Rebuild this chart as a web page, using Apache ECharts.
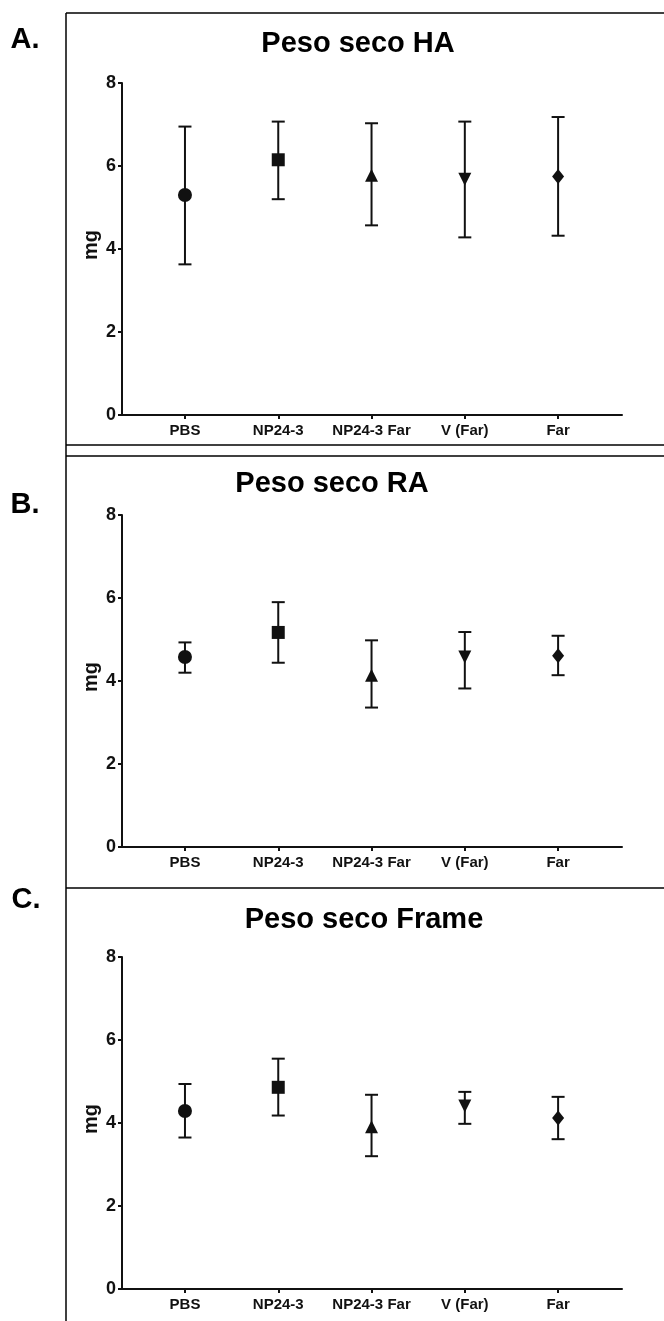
<!DOCTYPE html>
<html lang="en">
  <head>
    <meta charset="UTF-8" />
    <title>Peso seco</title>
    <script src="https://cdn.jsdelivr.net/npm/echarts@6/dist/echarts.min.js"></script>
    <style>
      html, body { margin: 0; padding: 0; background: #fff; }
    </style>
  </head>
  <body>
    <div id="main" style="width: 664px; height: 1321px"></div>
    <script type="text/javascript">
      // groups on the x axis
      let categories = ["PBS", "NP24-3", "NP24-3 Far", "V (Far)", "Far"]
      let yTicks = [0, 2, 4, 6, 8]

      // mean and error bar ends (mg)
      let haMean = [5.30, 6.15, 5.78, 5.68, 5.75]
      let haLow = [3.63, 5.20, 4.57, 4.28, 4.32]
      let haHigh = [6.95, 7.07, 7.03, 7.07, 7.18]

      let raMean = [4.58, 5.17, 4.14, 4.58, 4.61]
      let raLow = [4.20, 4.44, 3.36, 3.82, 4.14]
      let raHigh = [4.93, 5.90, 4.98, 5.18, 5.09]

      let frMean = [4.29, 4.86, 3.91, 4.41, 4.12]
      let frLow = [3.65, 4.18, 3.20, 3.98, 3.61]
      let frHigh = [4.94, 5.55, 4.68, 4.75, 4.63]

      let symbols = ["circle", "rect", "triangle", "path://M0,0 L10,0 L5,10 Z", "diamond"]
      let symbolSizes = [14, 13, 13, 13, [12, 15]]

      const font = "'Liberation Sans', Arial, sans-serif"
      const ink = "#111"

      let panels = [
        { mean: haMean, low: haLow, high: haHigh, top: 83 },
        { mean: raMean, low: raLow, high: raHigh, top: 515 },
        { mean: frMean, low: frLow, high: frHigh, top: 957 },
      ]

      let grids = [], xAxes = [], yAxes = [], series = []
      panels.forEach((p, i) => {
        grids.push({ left: 122, top: p.top, width: 500, height: 332 })
        xAxes.push({
          type: "value",
          gridIndex: i,
          min: -0.675,
          max: 4.685,
          splitLine: { show: false },
          axisLine: { show: true, onZero: false, lineStyle: { color: ink, width: 2 } },
          axisTick: { show: true, customValues: [0, 1, 2, 3, 4], length: 4, lineStyle: { color: ink, width: 2 } },
          axisLabel: {
            customValues: [0, 1, 2, 3, 4],
            formatter: (v) => categories[Math.round(v)],
            color: ink,
            fontFamily: font,
            fontWeight: "bold",
            fontSize: 15,
            margin: 8,
          },
        })
        yAxes.push({
          type: "value",
          gridIndex: i,
          min: 0,
          max: 8,
          interval: 2,
          splitLine: { show: false },
          axisLine: { show: true, onZero: false, lineStyle: { color: ink, width: 2 } },
          axisTick: { show: true, length: 4, lineStyle: { color: ink, width: 2 } },
          axisLabel: {
            formatter: (v) => (yTicks.includes(v) ? String(v) : ""),
            color: ink,
            fontFamily: font,
            fontWeight: "bold",
            fontSize: 18,
            margin: 6,
          },
        })
        // error bars
        series.push({
          type: "custom",
          xAxisIndex: i,
          yAxisIndex: i,
          data: categories.map((c, k) => [k, p.low[k], p.high[k]]),
          encode: { x: 0, y: [1, 2] },
          renderItem: (params, api) => {
            let lo = api.coord([api.value(0), api.value(1)])
            let hi = api.coord([api.value(0), api.value(2)])
            let half = 6.5
            let style = { stroke: ink, lineWidth: 2 }
            return {
              type: "group",
              children: [
                { type: "line", shape: { x1: lo[0], y1: lo[1], x2: hi[0], y2: hi[1] }, style },
                { type: "line", shape: { x1: hi[0] - half, y1: hi[1], x2: hi[0] + half, y2: hi[1] }, style },
                { type: "line", shape: { x1: lo[0] - half, y1: lo[1], x2: lo[0] + half, y2: lo[1] }, style },
              ],
            }
          },
          z: 2,
        })
        // means
        series.push({
          type: "scatter",
          xAxisIndex: i,
          yAxisIndex: i,
          data: categories.map((c, k) => ({
            value: [k, p.mean[k]],
            symbol: symbols[k],
            symbolSize: symbolSizes[k],
          })),
          itemStyle: { color: ink, opacity: 1 },
          z: 3,
        })
      })

      const border = { stroke: "#000", lineWidth: 1.5 }
      function hline(x1, y, x2) {
        return { type: "line", shape: { x1: x1, y1: y, x2: x2, y2: y }, style: border, silent: true }
      }
      function vline(x, y1, y2) {
        return { type: "line", shape: { x1: x, y1: y1, x2: x, y2: y2 }, style: border, silent: true }
      }
      function label(text, x, y) {
        return {
          type: "text",
          x: x,
          y: y,
          style: { text: text, fill: "#000", font: "bold 29px " + font, align: "center", verticalAlign: "middle" },
        }
      }
      // y axis title, rotated
      function mg(y) {
        return {
          type: "text",
          x: 91,
          y: y,
          rotation: Math.PI / 2,
          style: { text: "mg", fill: ink, font: "bold 20px " + font, align: "center", verticalAlign: "middle" },
        }
      }

      let options = {
        animation: false,
        backgroundColor: "#fff",
        grid: grids,
        xAxis: xAxes,
        yAxis: yAxes,
        series: series,
        graphic: [
          hline(66, 13, 664),
          vline(66, 13, 445),
          hline(66, 445, 664),
          hline(66, 456, 664),
          vline(66, 445, 888),
          hline(66, 888, 664),
          vline(66, 888, 1321),
          label("A.", 25, 40),
          label("B.", 25, 505),
          label("C.", 26, 900),
          label("Peso seco HA", 358, 44),
          label("Peso seco RA", 332, 484),
          label("Peso seco Frame", 364, 920),
          mg(245),
          mg(677),
          mg(1119),
        ],
      }

      let myChart = echarts.init(document.getElementById("main"))
      myChart.setOption(options)
    </script>
  </body>
</html>
